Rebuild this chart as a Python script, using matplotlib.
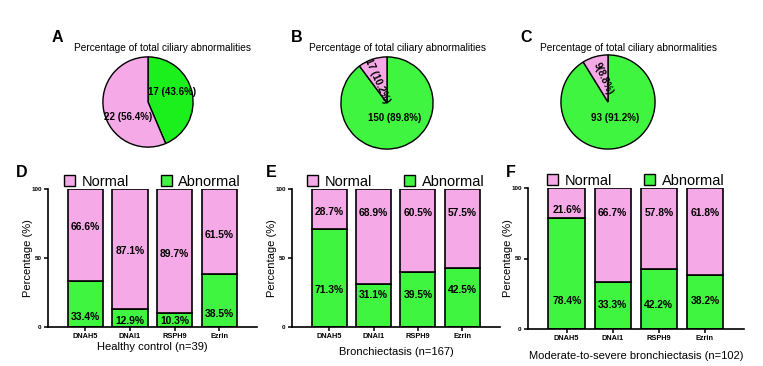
import matplotlib
matplotlib.use("Agg")
import matplotlib.pyplot as plt
from matplotlib.patches import Patch

plt.rcParams['font.family'] = ['Liberation Sans', 'DejaVu Sans']

# ---------------- data ----------------
pie_titles = ["Percentage of total ciliary abnormalities"] * 3
pie_abnormal = [17, 150, 93]
pie_normal = [22, 17, 9]
pie_abn_labels = ["17 (43.6%)", "150 (89.8%)", "93 (91.2%)"]
pie_norm_labels = ["22 (56.4%)", "17 (10.2%)", "9(8.8%)"]

genes = ["DNAH5", "DNAI1", "RSPH9", "Ezrin"]
abn_D = [33.4, 12.9, 10.3, 38.5]
nor_D = [66.6, 87.1, 89.7, 61.5]
abn_E = [71.3, 31.1, 39.5, 42.5]
nor_E = [28.7, 68.9, 60.5, 57.5]
abn_F = [78.4, 33.3, 42.2, 38.2]
nor_F = [21.6, 66.7, 57.8, 61.8]
xlabels = ["Healthy control (n=39)", "Bronchiectasis (n=167)",
           "Moderate-to-severe bronchiectasis (n=102)"]

# ---------------- style / layout ----------------
PINK = "#F5A9E6"
GREEN = "#40F540"
GREEN_A = "#1CF01C"
W, H = 763, 366

fig = plt.figure(figsize=(W / 100, H / 100), dpi=100)

def fx(px):
    return px / W

def fy(py):
    return 1 - py / H

# pies: centre (px), radius (px)
pie_geo = [(148, 102, 46), (387, 103, 47), (608, 102, 48)]
pie_green = [GREEN_A, GREEN, GREEN]
# label offsets (in radius units) and rotation for the normal label
abn_pos = [(0.53, 0.22), (0.17, -0.32), (0.15, -0.33)]
nor_pos = [(-0.43, -0.33, 0), (-0.21, 0.49, -66), (-0.10, 0.50, -66)]
title_pos = [(163, 48), (398, 48), (628, 48)]
letter_pos = [("A", 57, 38), ("B", 297, 38), ("C", 526, 38)]

for i in range(3):
    cx, cy, r = pie_geo[i]
    ax = fig.add_axes([fx(cx - r), fy(cy + r), fx(2 * r), 2 * r / H])
    ax.pie([pie_abnormal[i], pie_normal[i]], colors=[pie_green[i], PINK],
           startangle=90, counterclock=False,
           wedgeprops=dict(edgecolor="black", linewidth=1.0), radius=1)
    ax.set_xlim(-1.02, 1.02)
    ax.set_ylim(-1.02, 1.02)
    ax.set_aspect("auto")
    ax.axis("off")
    ax.text(abn_pos[i][0], abn_pos[i][1], pie_abn_labels[i], ha="center",
            va="center", fontsize=7, fontweight="bold")
    ax.text(nor_pos[i][0], nor_pos[i][1], pie_norm_labels[i], ha="center",
            va="center", fontsize=7, fontweight="bold",
            rotation=nor_pos[i][2])
    tx, ty = title_pos[i]
    fig.text(fx(tx), fy(ty), pie_titles[i], ha="center", va="center",
             fontsize=7.3)
    L, lx, ly = letter_pos[i]
    fig.text(fx(lx), fy(ly), L, ha="center", va="center", fontsize=11.5,
             fontweight="bold")

# bar panels
bar_axes = [(48, 257, 189, 327), (292, 500, 189, 327), (528, 744, 188, 329)]
abn_all = [abn_D, abn_E, abn_F]
nor_all = [nor_D, nor_E, nor_F]
abn_label_y = [[7.3, 4.1, 4.1, 9.2], [26.6, 23, 23, 26.6], [19.6, 17.3, 17.3, 19.6]]
nor_label_y = [[72.8, 55.3, 52.7, 66.7], [83.5, 82.3, 82.3, 82.3], [84.6, 82.3, 82.3, 82.3]]
bar_letters = [("D", 22, 172), ("E", 271, 172), ("F", 511, 172)]
xlabel_pad = [1, 5, 6]

for i in range(3):
    x0, x1, y0, y1 = bar_axes[i]
    ax = fig.add_axes([fx(x0), fy(y1), fx(x1 - x0), (y1 - y0) / H])
    xs = range(len(genes))
    ax.bar(xs, abn_all[i], width=0.79, color=GREEN, edgecolor="black",
           linewidth=1.2, zorder=2)
    ax.bar(xs, nor_all[i], bottom=abn_all[i], width=0.79, color=PINK,
           edgecolor="black", linewidth=1.2, zorder=2)
    for j in xs:
        ax.text(j, abn_label_y[i][j], f"{abn_all[i][j]}%", ha="center",
                va="center", fontsize=7.4, fontweight="bold", zorder=3)
        ax.text(j, nor_label_y[i][j], f"{nor_all[i][j]}%", ha="center",
                va="center", fontsize=7.4, fontweight="bold", zorder=3)
    ax.set_xlim(-0.84, 3.85)
    ax.set_ylim(0, 100)
    ax.set_yticks([0, 50, 100])
    ax.set_yticklabels(["0", "50", "100"], fontsize=4.5, fontweight="bold")
    ax.set_xticks(list(xs))
    ax.set_xticklabels(genes, fontsize=5.3, fontweight="bold")
    ax.tick_params(axis="both", length=3, width=1.1, pad=1.5)
    for s in ["top", "right"]:
        ax.spines[s].set_visible(False)
    for s in ["left", "bottom"]:
        ax.spines[s].set_linewidth(1.2)
    ax.set_ylabel("Percentage (%)", fontsize=8, labelpad=-1)
    ax.set_xlabel(xlabels[i], fontsize=8, labelpad=xlabel_pad[i])
    handles = [Patch(facecolor=PINK, edgecolor="black", linewidth=1.0, label="Normal"),
               Patch(facecolor=GREEN, edgecolor="black", linewidth=1.0, label="Abnormal")]
    ax.legend(handles=handles, ncol=2, loc="lower center",
              bbox_to_anchor=(0.5, 0.98), frameon=False, fontsize=10.5,
              handlelength=0.75, handleheight=0.75, handletextpad=0.45,
              columnspacing=2.2, borderpad=0.1, borderaxespad=0.1)
    L, lx, ly = bar_letters[i]
    fig.text(fx(lx), fy(ly), L, ha="center", va="center", fontsize=11.5,
             fontweight="bold")

fig.savefig("out.png", dpi=100)
